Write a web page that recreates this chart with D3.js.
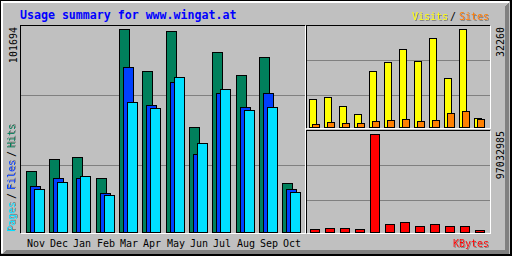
<!DOCTYPE html>
<html>
<head>
<meta charset="utf-8">
<script src="https://cdn.jsdelivr.net/npm/d3@7"></script>
<style>
  body { margin: 0; background: #fff; }
  svg { display: block; }
  text { font-family: "DejaVu Sans Mono", monospace; }
</style>
</head>
<body>
<svg width="512" height="256" id="mainsvg"></svg>
<script>
    // data
    const months = ['Nov', 'Dec', 'Jan', 'Feb', 'Mar', 'Apr', 'May', 'Jun', 'Jul', 'Aug', 'Sep', 'Oct'];
    const hits = [30450, 36470, 37630, 26940, 101694, 80620, 100690, 52530, 90150, 78610, 87650, 24430];
    const files = [22930, 26940, 26940, 19420, 82630, 63560, 75100, 38980, 69590, 62560, 69590, 21420];
    const pages = [21420, 24930, 27940, 18410, 65070, 62060, 77610, 44500, 71590, 61060, 62560, 19920];
    const visits = [9310, 9970, 7020, 4390, 18490, 21440, 25700, 21770, 29310, 16200, 32260, 3080];
    const sites = [1110, 1770, 1440, 1440, 2100, 2430, 2750, 2100, 2430, 4720, 5380, 2750];
    const kbytes = [3350000, 4340000, 4340000, 3350000, 97032985, 8280000, 10260000, 6310000, 8280000, 6310000, 6310000, 2370000];

    const C = {
        grey: '#c0c0c0', dkgrey: '#808080',
        hits: '#00805c', files: '#0040ff', pages: '#00e0ff',
        visits: '#ffff00', sites: '#ff8000', kbytes: '#ff0000', title: '#0000ff'
    };

    const svg = d3.select('svg').attr('shape-rendering', 'crispEdges');
    const width = +svg.attr('width');
    const height = +svg.attr('height');

    // grey drop shadow for the coloured legend words
    const f = svg.append('defs').append('filter').attr('id', 'shadow')
        .attr('x', '-10%').attr('y', '-20%').attr('width', '130%').attr('height', '150%');
    f.append('feOffset').attr('in', 'SourceAlpha').attr('dx', 1).attr('dy', 1).attr('result', 'off');
    f.append('feFlood').attr('flood-color', C.dkgrey);
    f.append('feComposite').attr('in2', 'off').attr('operator', 'in').attr('result', 'sh');
    const fm = f.append('feMerge');
    fm.append('feMergeNode').attr('in', 'sh');
    fm.append('feMergeNode').attr('in', 'SourceGraphic');

    // background + bevelled frame
    svg.append('rect').attr('width', width).attr('height', height).attr('fill', C.grey);
    svg.append('polygon')
        .attr('points', [[505, 6], [509, 2], [509, 254], [2, 254], [6, 250], [505, 250]].join(' '))
        .attr('fill', C.dkgrey);
    svg.append('rect').attr('x', 1).attr('y', 1).attr('width', 508).attr('height', 2).attr('fill', '#fff');
    svg.append('rect').attr('x', 1).attr('y', 1).attr('width', 2).attr('height', 252).attr('fill', '#fff');
    svg.append('rect').attr('x', 0).attr('y', 0).attr('width', width).attr('height', 1).attr('fill', '#000');
    svg.append('rect').attr('x', 0).attr('y', 0).attr('width', 1).attr('height', height).attr('fill', '#000');
    svg.append('rect').attr('x', 510).attr('y', 0).attr('width', 2).attr('height', height).attr('fill', '#000');
    svg.append('rect').attr('x', 0).attr('y', 254).attr('width', width).attr('height', 2).attr('fill', '#000');

    // inset panels: black top/left, white bottom/right
    function panel(x0, y0, x1, y1, grid) {
        const p = svg.append('g');
        grid.forEach(gy => p.append('line')
            .attr('x1', x0 + 1).attr('x2', x1).attr('y1', gy + 0.5).attr('y2', gy + 0.5)
            .attr('stroke', C.dkgrey));
        p.append('line').attr('x1', x0).attr('x2', x1).attr('y1', y0 + 0.5).attr('y2', y0 + 0.5).attr('stroke', '#000');
        p.append('line').attr('x1', x0 + 0.5).attr('x2', x0 + 0.5).attr('y1', y0).attr('y2', y1).attr('stroke', '#000');
        p.append('line').attr('x1', x0 + 1).attr('x2', x1 + 1).attr('y1', y1 + 0.5).attr('y2', y1 + 0.5).attr('stroke', '#fff');
        p.append('line').attr('x1', x1 + 0.5).attr('x2', x1 + 0.5).attr('y1', y0 + 1).attr('y2', y1 + 1).attr('stroke', '#fff');
    }
    panel(20, 25, 305, 233, [95, 165]);
    panel(306, 25, 490, 128, [60, 95]);
    panel(306, 130, 490, 233, [165, 200]);

    // scales
    const xL = d3.scaleLinear().domain([0, 12]).range([25.7, 305.7]);
    const yL = d3.scaleLinear().domain([0, d3.max(hits)]).range([232, 29]);
    const xR = d3.scaleLinear().domain([0, 12]).range([309.3, 489.3]);
    const yT = d3.scaleLinear().domain([0, d3.max(visits)]).range([127, 29]);
    const yB = d3.scaleLinear().domain([0, d3.max(kbytes)]).range([232, 134]);

    function bars(vals, xf, dx, w, yf, base, color) {
        svg.append('g').selectAll('rect').data(vals).join('rect')
            .attr('x', (d, i) => Math.round(xf(i)) + dx + 0.5)
            .attr('y', d => Math.round(yf(d)) + 0.5)
            .attr('width', w - 1)
            .attr('height', d => base - Math.round(yf(d)))
            .attr('fill', color)
            .attr('stroke', '#000')
            .attr('stroke-width', 1);
    }
    bars(hits, xL, 0, 11, yL, 232, C.hits);
    bars(files, xL, 4, 11, yL, 232, C.files);
    bars(pages, xL, 8, 11, yL, 232, C.pages);
    bars(visits, xR, 0, 8, yT, 127, C.visits);
    bars(sites, xR, 3, 8, yT, 127, C.sites);
    bars(kbytes, xR, 1, 10, yB, 232, C.kbytes);

    // month labels
    svg.append('g').selectAll('text').data(months).join('text')
        .attr('x', (d, i) => Math.round(xL(i)) + 10)
        .attr('y', 247)
        .attr('text-anchor', 'middle')
        .attr('font-size', 10)
        .attr('fill', '#000')
        .text(d => d);

    // title
    svg.append('text').attr('x', 20).attr('y', 19)
        .attr('font-size', 11.6).attr('font-weight', 'bold')
        .attr('fill', C.title)
        .text('Usage summary for www.wingat.at');

    // legend words, each its own text, with a grey shadow
    function word(s, x, y, col, rot, shadow) {
        const t = rot ? `translate(${x},${y}) rotate(-90)` : `translate(${x},${y})`;
        const tx = svg.append('text').attr('transform', t)
            .attr('font-size', 10)
            .attr('fill', col)
            .text(s);
        if (shadow) tx.attr('filter', 'url(#shadow)');
    }
    word('Visits', 412, 20, C.visits, false, true);
    word('/', 450, 20, '#000', false, false);
    word('Sites', 459, 20, C.sites, false, true);
    word('KBytes', 453, 247, C.kbytes, false, true);

    word('Pages', 15, 232, C.pages, true, true);
    word('/', 15, 199, '#000', true, false);
    word('Files', 15, 190, C.files, true, true);
    word('/', 15, 157, '#000', true, false);
    word('Hits', 15, 148, C.hits, true, true);

    // max value labels (rotated, ending at the top)
    function maxLabel(v, x, yTop) {
        svg.append('text')
            .attr('transform', `translate(${x},${yTop}) rotate(-90)`)
            .attr('text-anchor', 'end')
            .attr('font-size', 10)
            .attr('fill', '#000')
            .text(String(v));
    }
    maxLabel(d3.max(hits), 17, 27);
    maxLabel(d3.max(visits), 504, 27);
    maxLabel(d3.max(kbytes), 504, 131);
</script>
</body>
</html>
